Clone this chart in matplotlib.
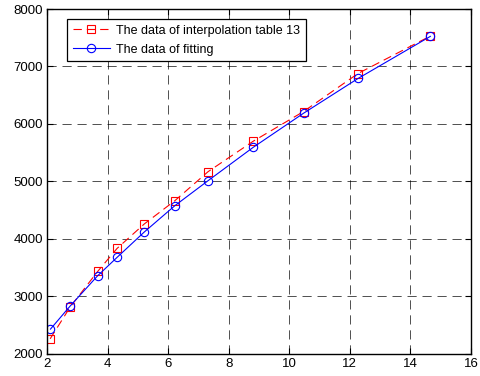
import matplotlib.pyplot as plt
import numpy as np

plt.rcParams['font.family'] = ['Liberation Sans', 'DejaVu Sans']
plt.rcParams['font.size'] = 9.5

# interpolation table 13
x_interp = [2.10, 2.76, 3.67, 4.31, 5.21, 6.22, 7.32, 8.81, 10.47, 12.27, 14.66]
y_interp = [2261, 2814, 3434, 3834, 4260, 4665, 5171, 5700, 6216, 6878, 7530]

# fitting
x_fit = [2.11, 2.76, 3.67, 4.31, 5.21, 6.22, 7.32, 8.81, 10.47, 12.27, 14.66]
y_fit = [2430, 2831, 3359, 3678, 4120, 4578, 5014, 5594, 6186, 6791, 7524]

fig = plt.figure(figsize=(4.81, 3.76), dpi=100)
ax = fig.add_axes([0.098, 0.059, 0.881, 0.917])

ax.plot(x_interp, y_interp, color='red', linestyle=(0, (7.5, 4.5)), linewidth=0.8,
        marker='s', markersize=6, markerfacecolor='none', markeredgecolor='red',
        markeredgewidth=0.8, label='The data of interpolation table 13')
ax.plot(x_fit, y_fit, color='blue', linestyle='-', linewidth=0.8,
        marker='o', markersize=6, markerfacecolor='none', markeredgecolor='blue',
        markeredgewidth=0.8, label='The data of fitting')

ax.set_xlim(2, 16)
ax.set_ylim(2000, 8000)
ax.set_xticks(np.arange(2, 17, 2))
ax.set_yticks(np.arange(2000, 8001, 1000))
ax.grid(True, color='black', linestyle=(0, (11, 7)), linewidth=0.6, alpha=0.8)
ax.tick_params(direction='in', top=True, right=True, length=4, width=0.8, pad=3)
for s in ax.spines.values():
    s.set_linewidth(1.0)

leg = ax.legend(loc='upper left', bbox_to_anchor=(0.047, 0.971), borderaxespad=0,
                fancybox=False, edgecolor='black', framealpha=1, handlelength=3.0,
                borderpad=0.45, labelspacing=0.55, handletextpad=0.5, fontsize=9)
leg.get_frame().set_linewidth(0.9)

fig.savefig('out.png', dpi=100)
